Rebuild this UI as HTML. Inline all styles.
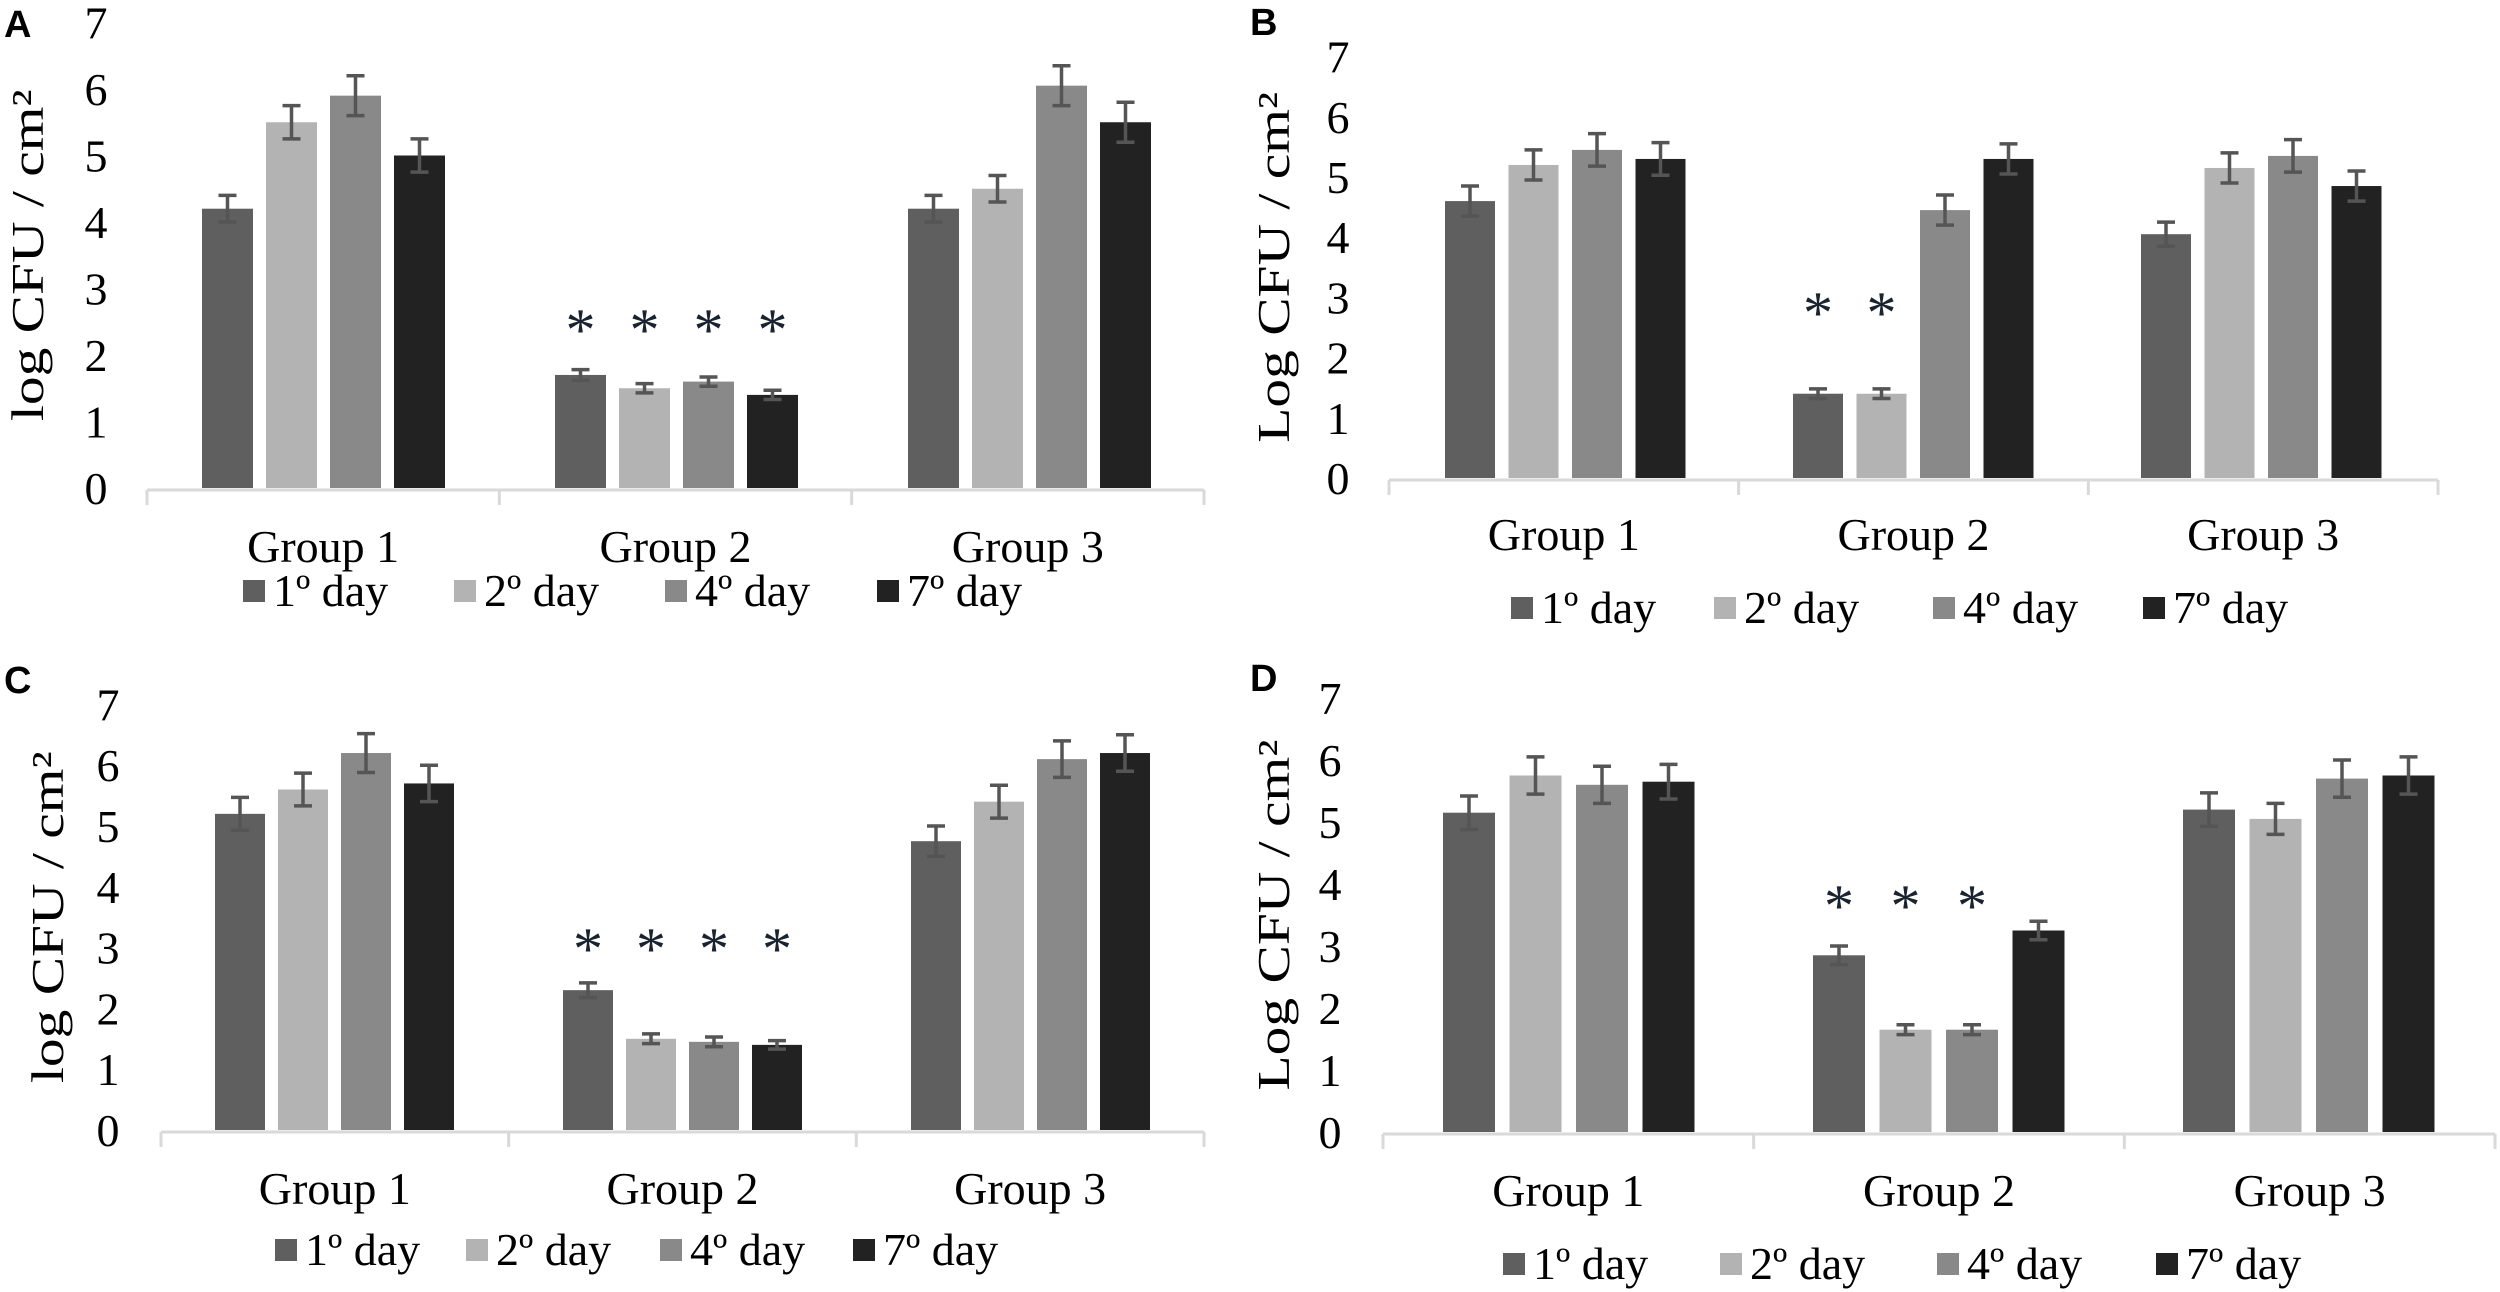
<!DOCTYPE html>
<html><head><meta charset="utf-8"><style>
html,body{margin:0;padding:0;background:#fff;}
svg{display:block;}
text{font-family:"Liberation Serif",serif;fill:#000;}
.pl{font-family:"Liberation Sans",sans-serif;font-weight:bold;}
</style></head><body>
<svg id="fig" width="2500" height="1292" viewBox="0 0 2500 1292" xmlns="http://www.w3.org/2000/svg"></svg>
<script>
const categories = ["Group 1","Group 2","Group 3"];
const seriesNames = ["1º day","2º day","4º day","7º day"];
const yTicks = [0,1,2,3,4,5,6,7];
const aValues = [[4.2,5.5,5.9,5.0],[1.7,1.5,1.6,1.4],[4.2,4.5,6.05,5.5]];
const aErrors = [[0.2,0.25,0.3,0.25],[0.08,0.07,0.07,0.07],[0.2,0.2,0.3,0.3]];
const aStars = [[],[0,1,2,3],[]];
const bValues = [[4.6,5.2,5.45,5.3],[1.4,1.4,4.45,5.3],[4.05,5.15,5.35,4.85]];
const bErrors = [[0.25,0.25,0.27,0.27],[0.08,0.08,0.25,0.25],[0.2,0.25,0.27,0.25]];
const bStars = [[],[0,1],[]];
const cValues = [[5.2,5.6,6.2,5.7],[2.3,1.5,1.45,1.4],[4.75,5.4,6.1,6.2]];
const cErrors = [[0.27,0.27,0.32,0.3],[0.12,0.08,0.08,0.07],[0.25,0.27,0.3,0.3]];
const cStars = [[],[0,1,2,3],[]];
const dValues = [[5.15,5.75,5.6,5.65],[2.85,1.65,1.65,3.25],[5.2,5.05,5.7,5.75]];
const dErrors = [[0.27,0.3,0.3,0.28],[0.15,0.08,0.08,0.15],[0.27,0.25,0.3,0.3]];
const dStars = [[],[0,1,2],[]];

const colors = ["#5f5f5f","#b3b3b3","#898989","#222222"];
const NS = "http://www.w3.org/2000/svg";
const svg = document.getElementById('fig');
function mk(tag, attrs, parent, txt){
  const e = document.createElementNS(NS, tag);
  for (const k in attrs) e.setAttribute(k, attrs[k]);
  if (txt !== undefined) e.textContent = txt;
  (parent||svg).appendChild(e);
  return e;
}
const FS = 46;
const panels = [
  {id:'a',letter:'A',lx:4,ly:37,values:aValues,errors:aErrors,stars:aStars,y0:488,unit:66.5,bar0:202,step:64,bw:51,gsp:353,ax0:147,ax1:1204,ylx:96,ttlx:28,ttl:'log CFU / cm²',gly:562,legy:591,legx:[243,454,665,877],stary:350},
  {id:'b',letter:'B',lx:1250,ly:35,values:bValues,errors:bErrors,stars:bStars,y0:478,unit:60.2,bar0:1445,step:63.5,bw:50,gsp:348,ax0:1389,ax1:2438,ylx:1338,ttlx:1274,ttl:'Log CFU / cm²',gly:550,legy:608,legx:[1511,1714,1933,2143],stary:333},
  {id:'c',letter:'C',lx:4,ly:693,values:cValues,errors:cErrors,stars:cStars,y0:1130,unit:60.8,bar0:215,step:63,bw:50,gsp:348,ax0:161,ax1:1204,ylx:108,ttlx:48,ttl:'log CFU / cm²',gly:1204,legy:1250,legx:[275,466,660,853],stary:969},
  {id:'d',letter:'D',lx:1250,ly:691,values:dValues,errors:dErrors,stars:dStars,y0:1132,unit:62,bar0:1443,step:66.5,bw:52,gsp:370,ax0:1383,ax1:2495,ylx:1330,ttlx:1274,ttl:'Log CFU / cm²',gly:1206,legy:1264,legx:[1503,1720,1937,2156],stary:926}
];
panels.forEach(p=>{
  const g = mk('g',{});
  
  
  const yS = v => p.y0 - v*p.unit;
  const xS = (gi,si) => p.bar0 + gi*p.gsp + si*p.step;
  const lt = mk('text',{x:p.lx,y:p.ly,'font-size':38,class:'pl'},g,p.letter);
  
  
  yTicks.forEach(t=>{
    const e = mk('text',{x:p.ylx,y:yS(t)+16,'font-size':FS,'text-anchor':'middle'},g,String(t));
    
    
  });
  const ym = (yS(0)+yS(7))/2;
  const tt = mk('text',{x:0,y:0,'font-size':FS,'text-anchor':'middle',transform:`translate(${p.ttlx} ${ym}) rotate(-90) scale(1.25 1)`,dy:15},g,p.ttl);
  
  
  const al = mk('line',{x1:p.ax0,x2:p.ax1,y1:p.y0+2,y2:p.y0+2,stroke:'#d9d9d9','stroke-width':3},g);
  
  
  const tw = (p.ax1-p.ax0)/categories.length;
  for (let i=0;i<=categories.length;i++){
    const tx = p.ax0 + i*tw;
    const tk = mk('line',{x1:tx,x2:tx,y1:p.y0+2,y2:p.y0+17,stroke:'#d9d9d9','stroke-width':3},g);
    
    
  }
  categories.forEach((c,gi)=>{
    const cl = mk('text',{x:p.ax0+tw*(gi+0.5),y:p.gly,'font-size':FS,'text-anchor':'middle'},g,c);
    
    
    p.values[gi].forEach((v,si)=>{
      const x = xS(gi,si);
      const r = mk('rect',{x:x,y:yS(v),width:p.bw,height:v*p.unit,fill:colors[si]},g);
      
      
      const cx = x+p.bw/2, e = p.errors[gi][si];
      const eg = mk('g',{stroke:'#555','stroke-width':3.5},g);
      
      
      mk('line',{x1:cx,x2:cx,y1:yS(v+e),y2:yS(v-e)},eg);
      mk('line',{x1:cx-9,x2:cx+9,y1:yS(v+e),y2:yS(v+e)},eg);
      mk('line',{x1:cx-9,x2:cx+9,y1:yS(v-e),y2:yS(v-e)},eg);
    });
    p.stars[gi].forEach(si=>{
      const s = mk('text',{x:xS(gi,si)+p.bw/2,y:p.stary,'font-size':60,'text-anchor':'middle',style:'fill:#1a2330'},g,'*');
      
      
    });
  });
  seriesNames.forEach((n,si)=>{
    const lg = mk('g',{},g);
    
    
    mk('rect',{x:p.legx[si],y:p.legy-11,width:22,height:22,fill:colors[si]},lg);
    mk('text',{x:p.legx[si]+30,y:p.legy+15,'font-size':FS},lg,n);
  });
});
</script>
</body></html>
